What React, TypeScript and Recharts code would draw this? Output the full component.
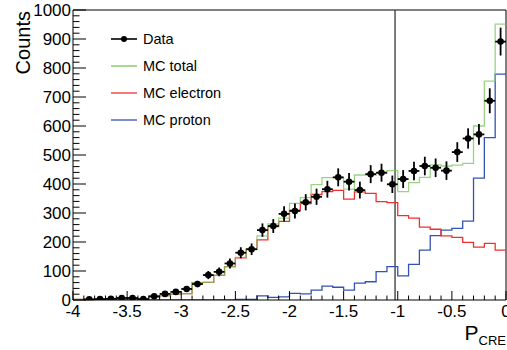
import React from 'react';
import {
  ComposedChart,
  Line,
  Scatter,
  ErrorBar,
  XAxis,
  YAxis,
  ReferenceLine,
  Legend,
} from 'recharts';

// histogram binning: 40 bins of 0.1 from -4 to 0
const xMin = -4;
const xMax = 0;
const binWidth = 0.1;

const mcTotal = [
  2, 2, 2, 3, 3, 4, 4, 9, 15, 20,
  22, 60, 61, 85, 115, 147, 177, 221, 262, 282,
  333, 353, 398, 422, 422, 382, 431, 431, 437, 446,
  374, 405, 423, 466, 462, 465, 471, 600, 755, 951,
];
const mcElectron = [
  2, 2, 2, 3, 3, 4, 4, 9, 15, 20,
  22, 60, 61, 85, 115, 145, 175, 207, 253, 271,
  310, 332, 364, 374, 378, 348, 373, 368, 339, 336,
  291, 282, 251, 244, 221, 216, 199, 182, 195, 172,
];
const mcProton = [
  0, 0, 0, 0, 0, 0, 0, 0, 0, 0,
  0, 0, 0, 0, 0, 2, 2, 14, 9, 11,
  23, 21, 34, 48, 44, 34, 58, 63, 98, 115,
  83, 123, 172, 222, 241, 247, 272, 420, 560, 779,
];
const dataCounts = [
  null, 2, 3, 4, 7, 7, 3, 13, 21, 28,
  38, 55, 86, 97, 126, 163, 175, 241, 255, 297,
  307, 337, 356, 382, 423, 408, 379, 434, 439, 399,
  417, 445, 462, 456, 446, 510, 557, 571, 687, 891,
];
const dataErrors = [
  null, 2, 3, 3, 4, 4, 3, 5, 7, 8,
  9, 11, 14, 15, 17, 19, 20, 23, 24, 26,
  26, 28, 28, 29, 31, 30, 29, 31, 31, 30,
  31, 32, 32, 32, 32, 34, 35, 36, 43, 48,
];
const cutValue = -1.025;

const xTicks = Array.from({ length: 41 }, (_, i) => Math.round((xMin + i * binWidth) * 10) / 10);
const yTicks = Array.from({ length: 51 }, (_, i) => i * 20);

const legendEntries = [
  { name: 'Data', color: '#000', marker: true },
  { name: 'MC total', color: '#78c65a', marker: false },
  { name: 'MC electron', color: '#f03030', marker: false },
  { name: 'MC proton', color: '#3352b5', marker: false },
];

const FONT = '"Liberation Sans", Arial, Helvetica, sans-serif';

// step rows at bin low edges, plus closing point at the upper edge
const histRows = mcTotal.map((_, i) => ({
  x: xMin + i * binWidth,
  total: mcTotal[i],
  electron: mcElectron[i],
  proton: mcProton[i],
}));
histRows.push({
  x: xMax,
  total: mcTotal[mcTotal.length - 1],
  electron: mcElectron[mcElectron.length - 1],
  proton: mcProton[mcProton.length - 1],
});

const pointRows = dataCounts
  .map((y, i) => ({ x: xMin + (i + 0.5) * binWidth, y, ey: dataErrors[i], ex: binWidth / 2 }))
  .filter((r) => r.y !== null);

const isMajorX = (v: number) => Math.abs(v * 2 - Math.round(v * 2)) < 1e-6;

const XTick = (props: any) => {
  const { x, y, payload } = props;
  const v = payload.value;
  const major = isMajorX(v);
  return (
    <g>
      <line x1={x} x2={x} y1={y} y2={y - (major ? 9 : 4.5)} stroke="#000" strokeWidth={1} />
      {major && (
        <text x={x} y={y + 17} textAnchor="middle" fontSize={17} fontFamily={FONT} fill="#000">
          {String(Math.round(v * 10) / 10)}
        </text>
      )}
    </g>
  );
};

const YTick = (props: any) => {
  const { x, y, payload } = props;
  const v = payload.value;
  const major = v % 100 === 0;
  return (
    <g>
      <line x1={x} x2={x + (major ? 13 : 6.5)} y1={y} y2={y} stroke="#000" strokeWidth={1} />
      {major && (
        <text x={x - 2} y={y} dy="0.36em" textAnchor="end" fontSize={17} fontFamily={FONT} fill="#000">
          {v}
        </text>
      )}
    </g>
  );
};

const renderLegend = () => (
  <div style={{ fontFamily: FONT, fontSize: 14.5, color: '#000' }}>
    {legendEntries.map((e) => (
      <div key={e.name} style={{ display: 'flex', alignItems: 'center', height: 27 }}>
        <svg width={38} height={12} style={{ marginRight: 0 }}>
          <line x1={6} x2={32} y1={6} y2={6} stroke={e.color} strokeWidth={e.marker ? 1.6 : 1.3} />
          {e.marker && <circle cx={19} cy={6} r={3} fill="#000" />}
        </svg>
        <span>{e.name}</span>
      </div>
    ))}
  </div>
);

const Marker = (props: any) => <circle cx={props.cx} cy={props.cy} r={3.3} fill="#000" />;

export default function App() {
  return (
    <div style={{ position: 'absolute', left: 0, top: 0, width: 507, height: 350, background: '#fff' }}>
      <ComposedChart width={507} height={350} margin={{ top: 10, right: 1, bottom: 0, left: 0 }}>
        <XAxis
          dataKey="x"
          type="number"
          domain={[xMin, xMax]}
          ticks={xTicks}
          interval={0}
          tick={<XTick />}
          tickLine={false}
          tickSize={0}
          tickMargin={0}
          height={50}
          axisLine={{ stroke: '#000' }}
          allowDataOverflow
          label={{
            content: () => (
              <text x={506} y={340} textAnchor="end" fontSize={21} fontFamily={FONT} fill="#000">
                P
                <tspan fontSize={13} dy={5}>
                  CRE
                </tspan>
              </text>
            ),
          }}
        />
        <YAxis
          type="number"
          domain={[0, 1000]}
          ticks={yTicks}
          interval={0}
          tick={<YTick />}
          tickLine={false}
          tickSize={0}
          tickMargin={0}
          width={73}
          axisLine={{ stroke: '#000' }}
          allowDataOverflow
          label={{
            content: () => (
              <text
                transform="translate(30,11) rotate(-90)"
                textAnchor="end"
                fontSize={20}
                fontFamily={FONT}
                fill="#000"
              >
                Counts
              </text>
            ),
          }}
        />
        <ReferenceLine y={1000} stroke="#000" strokeWidth={1} />
        <ReferenceLine x={xMax} stroke="#000" strokeWidth={1} />
        <ReferenceLine x={cutValue} stroke="#444" strokeWidth={1.4} />
        <Line
          data={histRows}
          dataKey="proton"
          name="MC proton"
          type="stepAfter"
          stroke="#3352b5"
          strokeWidth={1.3}
          dot={false}
          isAnimationActive={false}
        />
        <Line
          data={histRows}
          dataKey="electron"
          name="MC electron"
          type="stepAfter"
          stroke="#f03030"
          strokeWidth={1.3}
          dot={false}
          isAnimationActive={false}
        />
        <Line
          data={histRows}
          dataKey="total"
          name="MC total"
          type="stepAfter"
          stroke="#78c65a"
          strokeOpacity={0.75}
          strokeWidth={1.3}
          dot={false}
          isAnimationActive={false}
        />
        <Scatter data={pointRows} dataKey="y" name="Data" fill="#000" shape={<Marker />} isAnimationActive={false}>
          <ErrorBar dataKey="ey" direction="y" width={0} stroke="#000" strokeWidth={1.8} />
          <ErrorBar dataKey="ex" direction="x" width={0} stroke="#000" strokeWidth={1.8} />
        </Scatter>
        <Legend
          layout="vertical"
          align="center"
          verticalAlign="middle"
          content={renderLegend}
          wrapperStyle={{ left: 105, top: 25, width: 160 }}
        />
      </ComposedChart>
    </div>
  );
}
